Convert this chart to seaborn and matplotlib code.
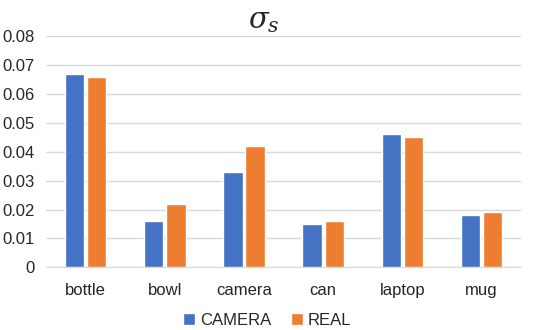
import numpy as np
import pandas as pd
import seaborn as sns
import matplotlib.pyplot as plt

# 数据
categories = ["bottle", "bowl", "camera", "can", "laptop", "mug"]
camera_vals = [0.067, 0.016, 0.033, 0.015, 0.046, 0.018]
real_vals = [0.066, 0.022, 0.042, 0.016, 0.045, 0.019]
series = ["CAMERA", "REAL"]
yticks = [0, 0.01, 0.02, 0.03, 0.04, 0.05, 0.06, 0.07, 0.08]
ytick_labels = ["0", "0.01", "0.02", "0.03", "0.04", "0.05", "0.06", "0.07", "0.08"]

df = pd.DataFrame({
    "category": categories * 2,
    "value": camera_vals + real_vals,
    "series": [series[0]] * len(categories) + [series[1]] * len(categories),
})

sns.set_style("white")
plt.rcParams['font.family'] = ['Liberation Sans', 'DejaVu Sans']
plt.rcParams['mathtext.fontset'] = 'dejavuserif'

fig = plt.figure(figsize=(5.48, 3.3), dpi=100)
ax = fig.add_axes([0.084, 0.19, 0.867, 0.70])
sns.barplot(data=df, x="category", y="value", hue="series",
            palette=["#4472C4", "#ED7D31"], width=0.56, gap=0.12,
            saturation=1, ax=ax, legend=True)

ax.set_ylim(0, 0.08)
ax.set_yticks(yticks)
ax.set_yticklabels(ytick_labels, fontsize=12)
ax.tick_params(axis="x", labelsize=12, length=0, pad=11)
ax.tick_params(axis="y", length=0, pad=8)
ax.yaxis.grid(True, color="#D9D9D9", linewidth=1)
ax.set_axisbelow(True)
for s in ["top", "right", "left"]:
    ax.spines[s].set_visible(False)
ax.spines["bottom"].set_color("#D9D9D9")
ax.set_xlabel("")
ax.set_ylabel("")

fig.text(0.482, 0.935, r"$\sigma_s$", fontsize=21, ha="center", va="center")

ax.legend(loc="center", bbox_to_anchor=(0.488, 0.03), bbox_transform=fig.transFigure,
          ncol=2, frameon=False, fontsize=12, handlelength=0.7, handleheight=0.7,
          handletextpad=0.3, columnspacing=1.2, title=None)

plt.savefig("out.png", dpi=100)
